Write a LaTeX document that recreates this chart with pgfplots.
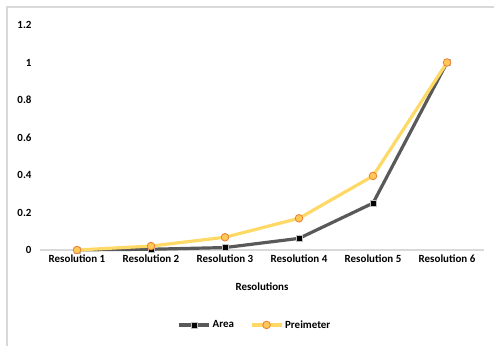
\documentclass[border=0pt]{standalone}
\usepackage{pgfplots}
\pgfplotsset{compat=1.18}
\usepackage{fontspec}
\setmainfont{Carlito}

\definecolor{arealine}{HTML}{595959}
\definecolor{perimline}{HTML}{FFD966}
\definecolor{perimfill}{HTML}{FFC857}
\definecolor{perimedge}{HTML}{ED7D31}
\definecolor{framegray}{HTML}{D9D9D9}

\begin{document}
\begin{tikzpicture}[x=1bp,y=1bp]
\useasboundingbox (0,0) rectangle (494,345);
% outer chart frame
\draw[framegray, line width=2bp] (7,-2) -- (7,338) -- (496,338);
\begin{axis}[
  at={(40bp,95bp)}, anchor=south west,
  width=444bp, height=225bp, scale only axis,
  xmin=-0.5, xmax=5.5, ymin=0, ymax=1.2,
  axis x line*=bottom, axis y line*=left,
  axis line style={-},
  x axis line style={framegray, line width=1.2bp},
  y axis line style={draw=none},
  major tick length=0,
  xtick={0,...,5},
  xticklabels={Resolution 1,Resolution 2,Resolution 3,Resolution 4,Resolution 5,Resolution 6},
  ytick={0,0.2,...,1.2},
  /pgf/number format/assume math mode=true,
  /pgf/number format/fixed,
  tick label style={font=\bfseries\fontsize{11}{13}\selectfont, text=black},
  yticklabel style={xshift=-5bp},
  xticklabel style={yshift=-1.5bp},
  xlabel={Resolutions},
  xlabel style={font=\bfseries\fontsize{11}{13}\selectfont, at={(axis description cs:0.5,-0.165)}, anchor=center},
  legend columns=2,
  legend style={draw=none, fill=none, at={(axis description cs:0.484,-0.333)}, anchor=center,
    font=\bfseries\fontsize{11}{13}\selectfont,
    /tikz/every even column/.append style={column sep=14bp}},
  legend image code/.code={\draw[mark repeat=2, mark phase=2] plot coordinates {(0bp,0bp) (15bp,0bp) (30bp,0bp)};},
  clip=false,
]
\addplot[arealine, line width=3.2bp, mark=square*, mark size=3bp,
  mark options={fill=black, draw=black!25, line width=0.6bp}]
  coordinates {(0,0.001) (1,0.004) (2,0.013) (3,0.062) (4,0.25) (5,1)};
\addlegendentry{Area}
\addplot[perimline, line width=3.2bp, mark=*, mark size=3.8bp,
  mark options={fill=perimfill, draw=perimedge, line width=0.8bp}]
  coordinates {(0,0) (1,0.021) (2,0.068) (3,0.169) (4,0.395) (5,1)};
\addlegendentry{Preimeter}
\end{axis}
\end{tikzpicture}
\end{document}
